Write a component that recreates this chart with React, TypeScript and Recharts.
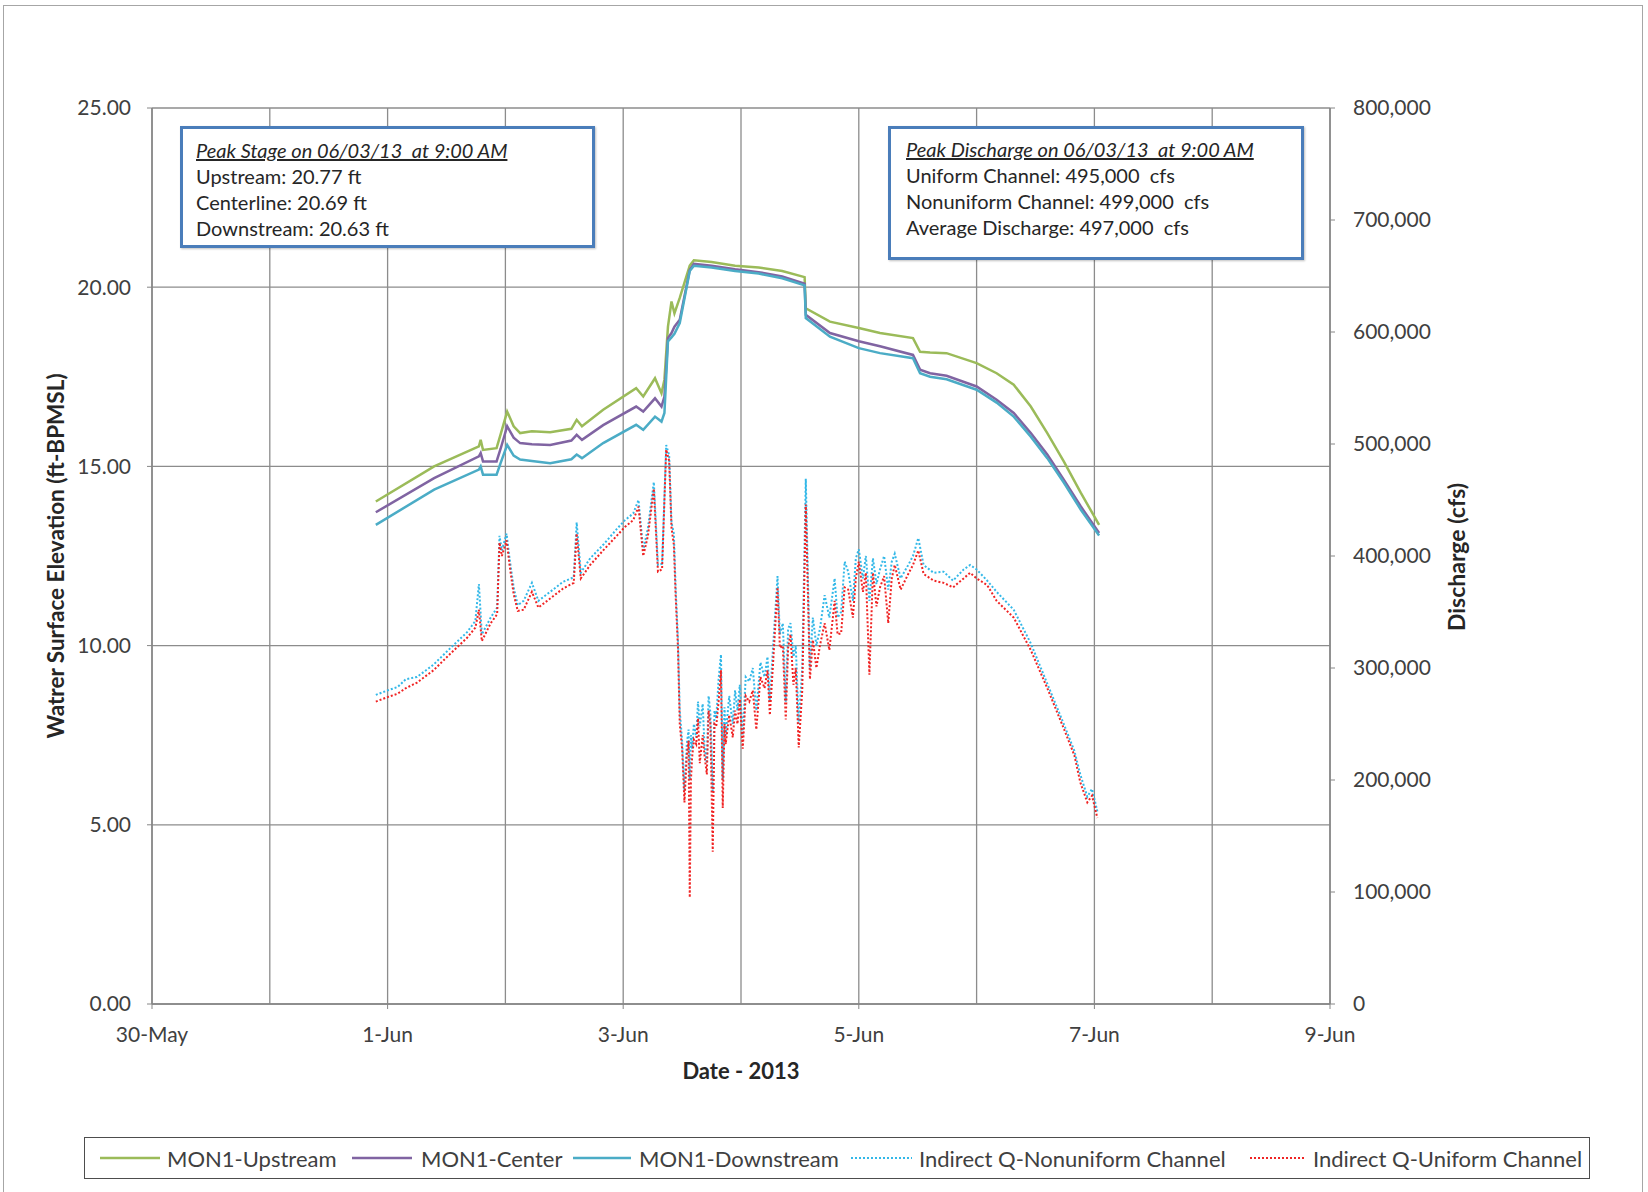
import React from "react";
import { LineChart, Line, XAxis, YAxis, CartesianGrid } from "recharts";

// Stage readings (ft) – x is days since 30-May 00:00
const stageDays = [
  1.9, 2.395, 2.775, 2.79, 2.81, 2.925, 2.96, 3.015, 3.07, 3.125, 3.225, 3.38,
  3.56, 3.605, 3.65, 3.83, 4.11, 4.17, 4.27, 4.325, 4.35, 4.38, 4.41, 4.435,
  4.48, 4.565, 4.6, 4.75, 4.95, 5.15, 5.35, 5.54, 5.55, 5.755, 6.0, 6.18, 6.46,
  6.52, 6.605, 6.745, 7.0, 7.17, 7.315, 7.46, 7.6, 7.74, 7.885, 8.04,
];
const upstream = [
  14.02, 15.0, 15.56, 15.74, 15.46, 15.51, 15.9, 16.53, 16.12, 15.93, 15.98,
  15.95, 16.05, 16.3, 16.12, 16.58, 17.18, 16.95, 17.46, 17.04, 17.42, 18.9,
  19.6, 19.27, 19.7, 20.6, 20.75, 20.7, 20.6, 20.55, 20.45, 20.28, 19.41, 19.04,
  18.86, 18.72, 18.58, 18.2, 18.18, 18.16, 17.88, 17.6, 17.28, 16.67, 15.93,
  15.14, 14.26, 13.37,
];
const center = [
  13.72, 14.67, 15.28, 15.37, 15.14, 15.14, 15.5, 16.12, 15.8, 15.65, 15.62,
  15.6, 15.72, 15.88, 15.74, 16.15, 16.67, 16.53, 16.9, 16.67, 16.95, 18.58,
  18.72, 18.9, 19.09, 20.48, 20.65, 20.6, 20.5, 20.42, 20.3, 20.1, 19.23, 18.72,
  18.49, 18.35, 18.11, 17.7, 17.6, 17.53, 17.23, 16.86, 16.49, 15.93, 15.33,
  14.63, 13.88, 13.14,
];
const downstream = [
  13.37, 14.35, 14.91, 15.0, 14.77, 14.77, 15.1, 15.6, 15.3, 15.19, 15.15,
  15.09, 15.2, 15.33, 15.23, 15.65, 16.16, 16.02, 16.39, 16.25, 16.49, 18.49,
  18.6, 18.7, 19.0, 20.45, 20.6, 20.55, 20.45, 20.38, 20.25, 20.05, 19.14, 18.62,
  18.3, 18.16, 18.02, 17.6, 17.5, 17.43, 17.14, 16.78, 16.39, 15.83, 15.23,
  14.55, 13.79, 13.07,
];

// Indirect discharge (thousand cfs)
const flowDays = [
  1.9, 2.0, 2.085, 2.155, 2.25, 2.39, 2.535, 2.675, 2.745, 2.775,
  2.8, 2.875, 2.93, 2.95, 2.97, 3.01, 3.035, 3.07, 3.105, 3.155,
  3.225, 3.28, 3.38, 3.49, 3.58, 3.605, 3.64, 3.72, 3.83, 3.945,
  4.015, 4.085, 4.13, 4.17, 4.21, 4.26, 4.295, 4.33, 4.365, 4.39,
  4.41, 4.43, 4.445, 4.465, 4.48, 4.5, 4.52, 4.54, 4.555, 4.565,
  4.575, 4.585, 4.6, 4.62, 4.635, 4.65, 4.675, 4.69, 4.71, 4.725,
  4.74, 4.76, 4.775, 4.79, 4.81, 4.83, 4.845, 4.86, 4.87, 4.9,
  4.93, 4.95, 4.97, 4.99, 5.015, 5.04, 5.07, 5.1, 5.13, 5.165,
  5.2, 5.225, 5.245, 5.27, 5.31, 5.33, 5.355, 5.38, 5.4, 5.42,
  5.445, 5.465, 5.49, 5.52, 5.55, 5.585, 5.61, 5.64, 5.67, 5.71,
  5.75, 5.795, 5.82, 5.85, 5.88, 5.91, 5.95, 5.975, 6.0, 6.035,
  6.06, 6.09, 6.12, 6.15, 6.18, 6.215, 6.25, 6.28, 6.305, 6.355,
  6.42, 6.46, 6.505, 6.55, 6.635, 6.72, 6.8, 6.89, 6.945, 7.0,
  7.09, 7.17, 7.315, 7.46, 7.6, 7.74, 7.83, 7.88, 7.94, 7.98,
  8.025,
];
const nonuniformQ = [
  276, 280, 283, 290, 292, 303, 318, 332, 342, 375,
  330, 345, 354, 418, 405, 420, 398, 372, 356, 360,
  376, 360, 368, 377, 381, 430, 385, 398, 410, 424,
  432, 438, 450, 405, 425, 466, 392, 393, 499, 490,
  430, 420, 372, 325, 262, 235, 190, 232, 245, 200,
  240, 228, 250, 238, 270, 248, 268, 230, 215, 275,
  260, 190, 262, 255, 290, 312, 200, 265, 240, 275,
  250, 280, 262, 285, 240, 292, 288, 300, 262, 305,
  292, 310, 270, 315, 382, 330, 340, 270, 335, 340,
  310, 320, 250, 300, 469, 300, 345, 320, 335, 365,
  345, 380, 345, 350, 395, 386, 360, 398, 406, 380,
  400, 360, 398, 375, 388, 400, 370, 395, 402, 380,
  392, 400, 416, 392, 385, 386, 378, 388, 392, 388,
  378, 368, 352, 322, 286, 250, 226, 205, 185, 192,
  172,
];
const uniformQ = [
  270, 274, 277, 282, 287, 298, 313, 327, 336, 352,
  324, 340, 348, 412, 400, 414, 392, 366, 351, 352,
  368, 354, 362, 371, 376, 420, 380, 392, 405, 418,
  426, 432, 444, 400, 418, 460, 386, 388, 495, 485,
  425, 410, 365, 318, 250, 228, 180, 222, 235, 95,
  200, 220, 236, 232, 255, 215, 240, 222, 205, 262,
  250, 136, 250, 248, 270, 298, 175, 250, 232, 258,
  238, 262, 250, 272, 228, 275, 270, 280, 245, 292,
  282, 298, 258, 300, 372, 318, 320, 254, 318, 330,
  285, 300, 229, 280, 446, 290, 325, 300, 320, 340,
  316, 360, 330, 331, 372, 370, 345, 380, 395, 368,
  385, 294, 385, 355, 372, 382, 340, 380, 392, 370,
  384, 392, 405, 384, 378, 376, 372, 380, 385, 380,
  374, 360, 345, 316, 282, 246, 222, 198, 180, 186,
  166,
];

const xTickValues = [0, 2, 4, 6, 8, 10];
const xTickLabels = ["30-May", "1-Jun", "3-Jun", "5-Jun", "7-Jun", "9-Jun"];
const gridDays = [0, 1, 2, 3, 4, 5, 6, 7, 8, 9, 10];
const stageTicks = [0, 5, 10, 15, 20, 25];
const flowTicks = [0, 100, 200, 300, 400, 500, 600, 700, 800];
const stageMinor = Array.from({ length: 26 }, (_, i) => i);
const flowMinor = Array.from({ length: 41 }, (_, i) => i * 20);

const stageData = stageDays.map((d, i) => ({
  day: d,
  up: upstream[i],
  center: center[i],
  down: downstream[i],
}));
const flowData = flowDays.map((d, i) => ({
  day: d,
  nonuni: nonuniformQ[i],
  uni: uniformQ[i],
}));

const FONT = "Lato, 'Open Sans', sans-serif";
const AXIS = "#868686";
const tickStyle = { fontSize: 21, fill: "#404040", fontFamily: FONT };

const legendItems = [
  { name: "MON1-Upstream", color: "#9BBB59", dash: "", x1: 100, x2: 160, tx: 167 },
  { name: "MON1-Center", color: "#8064A2", dash: "", x1: 352, x2: 412, tx: 421 },
  { name: "MON1-Downstream", color: "#4BACC6", dash: "", x1: 573, x2: 631, tx: 639 },
  { name: "Indirect Q-Nonuniform Channel", color: "#33B8E8", dash: "2 2", x1: 851, x2: 912, tx: 919 },
  { name: "Indirect Q-Uniform Channel", color: "#F02424", dash: "2 2", x1: 1250, x2: 1305, tx: 1313 },
];

const boxStyle: React.CSSProperties = {
  position: "absolute",
  boxSizing: "border-box",
  background: "#fff",
  border: "3px solid #4A7DBA",
  boxShadow: "1px 1px 2px rgba(0,0,0,0.25)",
  fontFamily: FONT,
  fontSize: 20,
  lineHeight: "26px",
  color: "#262626",
  whiteSpace: "nowrap",
};

const App = () => {
  return (
    <div
      style={{
        position: "absolute",
        left: 0,
        top: 0,
        width: 1648,
        height: 1192,
        background: "#fff",
        overflow: "hidden",
        fontFamily: FONT,
      }}
    >
      <div
        style={{
          position: "absolute",
          left: 3,
          top: 5,
          width: 1638,
          height: 1200,
          border: "1.5px solid #a6a6a6",
        }}
      />
      <LineChart
        width={1648}
        height={1192}
        margin={{ top: 108, right: 218, bottom: 148, left: 52 }}
      >
        <XAxis
          xAxisId="grid"
          dataKey="day"
          type="number"
          domain={[0, 10]}
          ticks={gridDays}
          allowDataOverflow
          height={0}
          hide
        />
        <XAxis
          xAxisId="t"
          dataKey="day"
          type="number"
          domain={[0, 10]}
          ticks={xTickValues}
          interval={0}
          allowDataOverflow
          height={40}
          tickSize={5}
          tickMargin={18}
          tick={tickStyle}
          tickFormatter={(v) => xTickLabels[xTickValues.indexOf(v)]}
          stroke={AXIS}
          axisLine={{ stroke: AXIS, strokeWidth: 1.5 }}
        />
        <YAxis
          yAxisId="left"
          domain={[0, 25]}
          ticks={stageTicks}
          interval={0}
          allowDataOverflow
          width={100}
          tickSize={5}
          tickMargin={16}
          tick={tickStyle}
          tickFormatter={(v) => Number(v).toFixed(2)}
          stroke={AXIS}
          axisLine={{ stroke: AXIS, strokeWidth: 1.5 }}
        />
        <YAxis
          yAxisId="right"
          orientation="right"
          domain={[0, 800]}
          ticks={flowTicks}
          interval={0}
          allowDataOverflow
          width={100}
          tickSize={5}
          tickMargin={18}
          tick={{ ...tickStyle, textAnchor: "start" }}
          tickFormatter={(v) => (v === 0 ? "0" : `${v},000`)}
          stroke={AXIS}
          axisLine={{ stroke: AXIS, strokeWidth: 1.5 }}
        />
        <YAxis
          yAxisId="leftMinor"
          mirror
          width={1}
          domain={[0, 25]}
          ticks={stageMinor}
          interval={0}
          allowDataOverflow
          tick={false}
          axisLine={false}
          tickSize={5}
          stroke={AXIS}
        />
        <YAxis
          yAxisId="rightMinor"
          orientation="right"
          mirror
          width={1}
          domain={[0, 800]}
          ticks={flowMinor}
          interval={0}
          allowDataOverflow
          tick={false}
          axisLine={false}
          tickSize={5}
          stroke={AXIS}
        />
        <CartesianGrid
          xAxisId="grid"
          yAxisId="left"
          stroke="#8c8c8c"
          strokeWidth={1.3}
        />
        <Line
          data={stageData}
          xAxisId="t"
          yAxisId="left"
          dataKey="up"
          name="MON1-Upstream"
          stroke="#9BBB59"
          strokeWidth={2.5}
          dot={false}
          type="linear"
          isAnimationActive={false}
        />
        <Line
          data={stageData}
          xAxisId="t"
          yAxisId="left"
          dataKey="center"
          name="MON1-Center"
          stroke="#8064A2"
          strokeWidth={2.5}
          dot={false}
          type="linear"
          isAnimationActive={false}
        />
        <Line
          data={stageData}
          xAxisId="t"
          yAxisId="left"
          dataKey="down"
          name="MON1-Downstream"
          stroke="#4BACC6"
          strokeWidth={2.5}
          dot={false}
          type="linear"
          isAnimationActive={false}
        />
        <Line
          data={flowData}
          xAxisId="t"
          yAxisId="right"
          dataKey="nonuni"
          name="Indirect Q-Nonuniform Channel"
          stroke="#33B8E8"
          strokeWidth={2}
          strokeDasharray="2 2"
          dot={false}
          type="linear"
          isAnimationActive={false}
        />
        <Line
          data={flowData}
          xAxisId="t"
          yAxisId="right"
          dataKey="uni"
          name="Indirect Q-Uniform Channel"
          stroke="#F02424"
          strokeWidth={2}
          strokeDasharray="2 2"
          dot={false}
          type="linear"
          isAnimationActive={false}
        />
      </LineChart>

      {/* annotation boxes */}
      <div
        style={{
          ...boxStyle,
          left: 180,
          top: 126,
          width: 415,
          height: 122,
          paddingTop: 8,
          paddingLeft: 13,
        }}
      >
        <div style={{ fontStyle: "italic", textDecoration: "underline" }}>
          Peak Stage on 06/03/13&nbsp; at 9:00 AM
        </div>
        <div>Upstream: 20.77 ft</div>
        <div>Centerline: 20.69 ft</div>
        <div>Downstream: 20.63 ft</div>
      </div>
      <div
        style={{
          ...boxStyle,
          left: 888,
          top: 126,
          width: 416,
          height: 134,
          paddingTop: 7,
          paddingLeft: 15,
        }}
      >
        <div style={{ fontStyle: "italic", textDecoration: "underline" }}>
          Peak Discharge on 06/03/13&nbsp; at 9:00 AM
        </div>
        <div>Uniform Channel: 495,000&nbsp; cfs</div>
        <div>Nonuniform Channel: 499,000&nbsp; cfs</div>
        <div>Average Discharge: 497,000&nbsp; cfs</div>
      </div>

      {/* axis titles */}
      <div
        style={{
          position: "absolute",
          left: 741,
          top: 1070,
          transform: "translate(-50%, -50%)",
          fontWeight: 700,
          fontSize: 22,
          color: "#262626",
          whiteSpace: "nowrap",
        }}
      >
        Date - 2013
      </div>
      <div
        style={{
          position: "absolute",
          left: 55,
          top: 556,
          transform: "translate(-50%, -50%) rotate(-90deg)",
          fontWeight: 700,
          fontSize: 22.5,
          color: "#262626",
          whiteSpace: "nowrap",
        }}
      >
        Watrer Surface Elevation (ft-BPMSL)
      </div>
      <div
        style={{
          position: "absolute",
          left: 1456,
          top: 557,
          transform: "translate(-50%, -50%) rotate(-90deg)",
          fontWeight: 700,
          fontSize: 23,
          color: "#262626",
          whiteSpace: "nowrap",
        }}
      >
        Discharge (cfs)
      </div>

      {/* legend */}
      <div
        style={{
          position: "absolute",
          left: 84,
          top: 1137,
          width: 1506,
          height: 42,
          boxSizing: "border-box",
          border: "1.5px solid #4d4d4d",
          background: "#fff",
        }}
      />
      <svg
        style={{ position: "absolute", left: 0, top: 1137 }}
        width={1648}
        height={42}
      >
        {legendItems.map((it) => (
          <g key={it.name}>
            <line
              x1={it.x1}
              x2={it.x2}
              y1={21}
              y2={21}
              stroke={it.color}
              strokeWidth={it.dash ? 2 : 2.5}
              strokeDasharray={it.dash || undefined}
            />
            <text
              x={it.tx}
              y={21}
              dominantBaseline="central"
              fontFamily={FONT}
              fontSize={22}
              fill="#404040"
            >
              {it.name}
            </text>
          </g>
        ))}
      </svg>
    </div>
  );
};

export default App;
